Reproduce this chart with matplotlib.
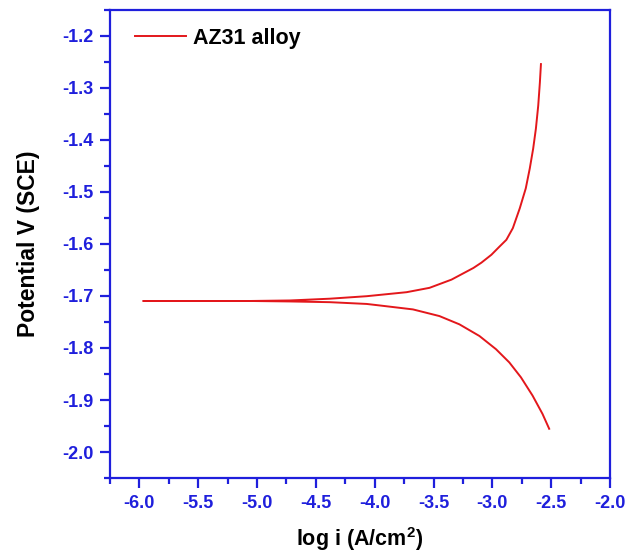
import matplotlib
matplotlib.use("Agg")
import matplotlib.pyplot as plt
from matplotlib.ticker import MultipleLocator, FormatStrFormatter

plt.rcParams['font.family'] = ['Liberation Sans', 'DejaVu Sans']
plt.rcParams['mathtext.fontset'] = 'custom'
plt.rcParams['mathtext.rm'] = 'Liberation Sans'
plt.rcParams['mathtext.bf'] = 'Liberation Sans:bold'
plt.rcParams['mathtext.it'] = 'Liberation Sans:italic'

# Cathodic branch (from cathodic end toward Ecorr)
cath_logi = [-2.517, -2.574, -2.658, -2.757, -2.856, -2.969, -3.110, -3.280, -3.450,
             -3.675, -3.958, -4.068, -4.381, -4.720, -5.059, -5.966]
cath_E = [-1.9553, -1.9266, -1.8916, -1.8564, -1.8277, -1.8023, -1.7769, -1.7545, -1.7386,
          -1.7258, -1.7182, -1.7153, -1.7119, -1.7105, -1.7096, -1.7096]
# Anodic branch (from Ecorr toward anodic end)
anod_logi = [-5.966, -5.059, -4.720, -4.381, -4.068, -3.729, -3.534, -3.347, -3.161,
             -3.093, -3.008, -2.941, -2.881, -2.826, -2.767, -2.716, -2.682, -2.653,
             -2.630, -2.610, -2.596, -2.587]
anod_E = [-1.7096, -1.7096, -1.7086, -1.7052, -1.7004, -1.6927, -1.6843, -1.6685, -1.6461,
          -1.6359, -1.6207, -1.6054, -1.5920, -1.5696, -1.5314, -1.4931, -1.4549, -1.4166,
          -1.3784, -1.3338, -1.2893, -1.2541]

xlabel = r'log i (A/cm$^\mathbf{2}$)'
ylabel = 'Potential V (SCE)'
legend_label = 'AZ31 alloy'

blue = '#1f1fdc'
red = '#e3171b'

fig = plt.figure(figsize=(6.25, 5.53), dpi=100)
ax = fig.add_axes([0.176, 0.1356, 0.8, 0.8464])

ax.plot(cath_logi + anod_logi, cath_E + anod_E, color=red, lw=1.4, label=legend_label,
        solid_joinstyle='round')

ax.set_xlim(-6.25, -2.0)
ax.set_ylim(-2.05, -1.15)
ax.xaxis.set_major_locator(MultipleLocator(0.5))
ax.xaxis.set_minor_locator(MultipleLocator(0.25))
ax.yaxis.set_major_locator(MultipleLocator(0.1))
ax.yaxis.set_minor_locator(MultipleLocator(0.05))
ax.xaxis.set_major_formatter(FormatStrFormatter('%.1f'))
ax.yaxis.set_major_formatter(FormatStrFormatter('%.1f'))

for s in ax.spines.values():
    s.set_color(blue)
    s.set_linewidth(1.6)

ax.tick_params(axis='both', which='major', direction='out', length=7, width=1.6,
               color=blue, labelcolor=blue, labelsize=13, pad=5)
ax.tick_params(axis='both', which='minor', direction='out', length=4, width=1.6, color=blue)
ax.tick_params(top=False, right=False, which='both')
for lab in ax.get_xticklabels() + ax.get_yticklabels():
    lab.set_fontweight('bold')

ax.set_xlabel(xlabel, fontsize=15.5, fontweight='bold', labelpad=10)
ax.set_ylabel(ylabel, fontsize=16.5, fontweight='bold', labelpad=16)

leg = ax.legend(loc='upper left', bbox_to_anchor=(0.05, 0.962), frameon=False,
                fontsize=15.5, handlelength=2.37, borderpad=0, borderaxespad=0,
                handletextpad=0.33)
for t in leg.get_texts():
    t.set_fontweight('bold')

fig.savefig('out.png', dpi=100)
